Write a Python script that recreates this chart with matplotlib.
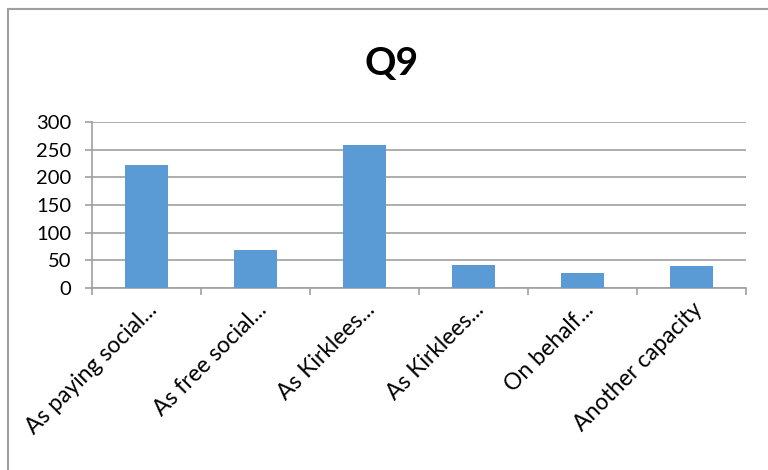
import matplotlib
matplotlib.use("Agg")
import matplotlib.pyplot as plt
from matplotlib.patches import Rectangle
import matplotlib.transforms as mtransforms

categories = ["As paying social...", "As free social...", "As Kirklees...",
              "As Kirklees...", "On behalf...", "Another capacity"]
values = [222, 69, 258, 42, 28, 39]
yticks = [0, 50, 100, 150, 200, 250, 300]
title = "Q9"

plt.rcParams['font.family'] = ['Lato', 'DejaVu Sans']

W, H = 768, 470
fig = plt.figure(figsize=(W/100, H/100), dpi=100)
fig.patch.set_facecolor('white')

# chart border
fig.add_artist(Rectangle((8/W, -0.1), 1.2, (H-9)/H + 0.1, transform=fig.transFigure,
                         fill=False, edgecolor='#a0a0a0', linewidth=1.5))

left, right, top, bottom = 92, 746, 122, 288
ax = fig.add_axes([left/W, 1-bottom/H, (right-left)/W, (bottom-top)/H])

x = list(range(len(categories)))
ax.bar(x, values, width=0.4, color='#5b9bd5', zorder=3)
ax.set_xlim(-0.5, len(categories)-0.5)
ax.set_ylim(0, 300)
ax.set_yticks(yticks)
ax.set_yticklabels([str(v) for v in yticks], fontsize=14.5)
ax.grid(axis='y', color='#a0a0a0', linewidth=1.2, zorder=0)

ax.set_xticks([i - 0.5 for i in range(len(categories)+1)], minor=False)
ax.set_xticklabels([])
ax.set_xticks(x, minor=True)
ax.set_xticklabels(categories, minor=True, rotation=45, ha='right', va='top',
                   rotation_mode='anchor', fontsize=16.5)
offset = mtransforms.ScaledTranslation(10/100, 0, fig.dpi_scale_trans)
for lbl in ax.get_xticklabels(minor=True):
    lbl.set_transform(lbl.get_transform() + offset)
ax.tick_params(axis='x', which='minor', length=0, pad=8)
ax.tick_params(axis='x', which='major', length=5, color='#a0a0a0', width=1.2)
ax.tick_params(axis='y', length=5, color='#a0a0a0', width=1.2, pad=10)

for s in ['top', 'right']:
    ax.spines[s].set_visible(False)
for s in ['left', 'bottom']:
    ax.spines[s].set_color('#a0a0a0')
    ax.spines[s].set_linewidth(1.2)

fig.text(392/W, 1-63/H, title, fontsize=28, fontweight='bold', ha='center', va='center')

fig.savefig('out.png', dpi=100)
